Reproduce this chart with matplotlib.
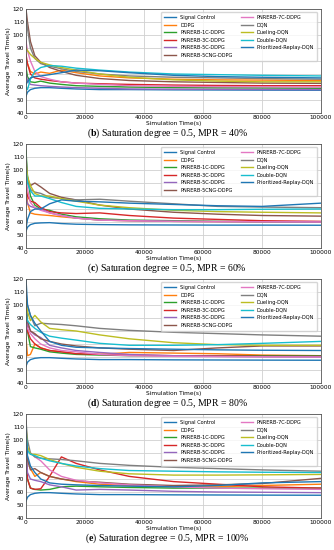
import matplotlib
matplotlib.use('Agg')
import matplotlib.pyplot as plt

# simulation time sample points shared by every curve
T = [0, 500, 1500, 3000, 5000, 8000, 12000, 17000, 25000, 35000, 50000, 65000, 80000, 100000]

names = ['Signal Control', 'DDPG', 'PNRERB-1C-DDPG', 'PNRERB-3C-DDPG',
         'PNRERB-5C-DDPG', 'PNRERB-5CNG-DDPG', 'PNRERB-7C-DDPG', 'DQN',
         'Dueling-DQN', 'Double-DQN', 'Prioritized-Replay-DQN']
colors = ['tab:blue', 'tab:orange', 'tab:green', 'tab:red', 'tab:purple',
          'tab:brown', 'tab:pink', 'tab:gray', 'tab:olive', 'tab:cyan', 'tab:blue']

# (b) MPR = 40%
mpr40 = [
    [53, 56, 58, 59, 59.5, 59.5, 59, 58.5, 58, 58, 57.8, 57.7, 57.6, 57.5],
    [82, 78, 72, 70, 71.5, 70.5, 73, 71, 68.5, 67, 66, 65.5, 65.3, 65],
    [75, 68, 64, 63.5, 64.5, 63, 62, 61, 60.5, 60, 59.5, 59.3, 59.2, 59],
    [85, 78, 70, 67, 66, 65, 64, 63, 62.5, 62, 61.5, 61.2, 61, 61],
    [70, 65, 62, 61.5, 61, 60.5, 60, 59.5, 59, 58.5, 58.3, 58.2, 58.1, 58],
    [120, 110, 95, 84, 79, 75, 72, 69, 66.5, 65, 64, 63.5, 63, 62.8],
    [95, 88, 80, 72, 68, 66, 64, 63, 62, 61, 60.5, 60.3, 60.2, 60],
    [115, 105, 90, 82, 78, 76, 74, 72, 70, 68.5, 67.5, 67, 66.5, 66],
    [90, 88, 85, 82, 79, 77, 75, 73, 70, 67.5, 65.5, 64.5, 64, 64],
    [60, 58, 66, 72, 75, 76.5, 76, 74.5, 73, 71.5, 70, 69.5, 69, 68.5],
    [62, 64, 67, 68, 68.5, 69.5, 71, 73, 72.5, 71, 69, 68, 67.5, 67],
]

# (c) MPR = 60%
mpr60 = [
    [53, 56, 58, 59, 59.3, 59.5, 58.8, 58.3, 58, 57.8, 57.7, 57.6, 57.6, 57.5],
    [90, 75, 67, 66, 65.5, 65, 64, 63, 61.5, 61, 60.5, 60.3, 60.2, 60],
    [115, 95, 80, 73, 70, 69, 66, 64, 62.5, 61.5, 61, 60.5, 60.3, 60],
    [85, 80, 76, 75, 71, 68, 67, 66.5, 67, 65, 63, 62, 61, 60.5],
    [80, 74, 72, 71, 70, 67, 65, 63, 61.5, 61, 60.5, 60.3, 60.2, 60],
    [100, 92, 88, 90, 87, 82, 79, 77, 73, 70, 67.5, 66, 65, 64.5],
    [95, 85, 75, 71, 69, 67, 65, 63, 61.5, 61, 60.5, 60.3, 60.2, 60],
    [110, 95, 85, 83, 82, 79, 78, 77, 77.5, 76, 74, 72, 71.5, 71],
    [105, 95, 88, 82, 80, 80, 78, 76, 73, 71, 69, 68, 67.5, 67],
    [100, 90, 84, 80, 80, 78, 75, 72, 70.5, 70, 69.5, 69.5, 69.8, 70],
    [55, 62, 68, 70, 70, 74, 77, 76, 75.5, 74.5, 73.5, 72.5, 72, 74.5],
]

# (d) MPR = 80%
mpr80 = [
    [53, 56, 58, 59, 59.5, 59.5, 59, 58.5, 58, 58, 57.8, 57.7, 57.6, 57.5],
    [75, 61, 62, 70, 67, 65, 64, 62.5, 62, 63.5, 63, 62.5, 61.5, 61],
    [110, 80, 68, 67, 66, 64, 63, 62, 61.5, 61, 61, 61, 61, 61],
    [95, 80, 74, 70, 67, 65, 64, 62.5, 62, 61.5, 61, 60.8, 60.5, 60.5],
    [90, 85, 80, 77, 75, 69, 67, 65, 63.5, 62, 61, 60.5, 60.2, 60],
    [100, 88, 80, 78, 74, 72, 70, 68.5, 67, 66, 65, 67, 68.5, 68.5],
    [85, 82, 78, 74, 70, 67, 65, 64, 62, 61, 60.5, 60.3, 60.2, 60],
    [110, 100, 92, 84, 86, 85.5, 85, 84, 82, 80.5, 79, 78, 77, 76],
    [105, 95, 88, 92, 87, 82, 81, 80, 77, 74, 71, 69.5, 69, 69],
    [95, 88, 85, 82, 79, 76, 74.5, 73, 70.5, 69, 69, 69.5, 70.5, 72],
    [120, 100, 92, 86, 80, 72, 69, 67.5, 67, 66.5, 66, 65.5, 65.2, 65],
]

# (e) MPR = 100%
mpr100 = [
    [53, 56, 58, 59, 59.5, 59.5, 59, 58.5, 58, 58, 57.8, 57.7, 57.6, 57.5],
    [95, 85, 78, 72, 75, 72, 70, 68, 66, 65, 64, 64, 65, 66],
    [95, 70, 63, 62, 61.5, 62, 64, 64.5, 64, 63.5, 63, 63, 63, 63],
    [90, 70, 63, 62, 62.5, 72, 87, 82, 77, 72, 68, 66, 64, 63],
    [95, 75, 70, 69, 68, 65.5, 64, 61.5, 62, 61.5, 60.5, 60, 59.8, 59.5],
    [100, 85, 77, 78, 75, 72, 70, 68.5, 67.5, 66, 65, 65.5, 66.5, 70.5],
    [100, 92, 90, 87, 84, 77, 72, 69, 67, 65.5, 64, 63, 62.5, 62],
    [115, 100, 90, 87, 86, 85.5, 85, 84, 82, 80.5, 79, 78, 77, 76],
    [110, 95, 89, 89, 88, 85, 82, 79, 76, 74, 73, 73, 73.2, 73.5],
    [105, 92, 89, 88, 86, 84, 82, 80, 78, 76.5, 76, 75.5, 75.2, 75],
    [110, 88, 80, 75, 70, 67, 66, 65.5, 65, 64.5, 64, 65, 67, 68],
]

panels = [mpr40, mpr60, mpr80, mpr100]
letters = ['b', 'c', 'd', 'e']
mprs = ['40%', '60%', '80%', '100%']

plt.rcParams['mathtext.fontset'] = 'custom'
plt.rcParams['mathtext.bf'] = 'Liberation Serif:bold'
plt.rcParams['mathtext.rm'] = 'Liberation Serif'

fig = plt.figure(figsize=(3.34, 5.5), dpi=100)
W, H = 334.0, 550.0

for k, data in enumerate(panels):
    top = 9 + 135 * k
    ax = fig.add_axes([26 / W, 1 - (top + 104) / H, 295 / W, 104 / H])
    for name, c, vals in zip(names, colors, data):
        ax.plot(T, vals, color=c, lw=1.0, label=name)
    ax.set_xlim(0, 100000)
    ax.set_ylim(40, 120)
    ax.set_xticks([0, 20000, 40000, 60000, 80000, 100000])
    ax.set_yticks(range(40, 121, 10))
    ax.grid(True, color='#d0d0d0', lw=0.6)
    ax.set_axisbelow(True)
    ax.tick_params(labelsize=4.2, length=0, pad=1.5)
    for s in ax.spines.values():
        s.set_color('#555555')
        s.set_linewidth(0.6)
    ax.set_xlabel('Simulation Time(s)', fontsize=4.2, labelpad=1)
    ax.set_ylabel('Average Travel Time(s)', fontsize=4.2, labelpad=1.5)
    ax.legend(loc='upper right', ncol=2, fontsize=3.6, frameon=True,
              handlelength=2.4, columnspacing=1.6, labelspacing=0.5,
              borderpad=0.6, edgecolor='#cccccc', fancybox=True,
              bbox_to_anchor=(0.995, 0.995))
    fig.text(0.5, 1 - (top + 104 + 20) / H,
             r'($\mathbf{' + letters[k] + r'}$) Saturation degree = 0.5, MPR = ' + mprs[k],
             ha='center', va='center', fontsize=7, family='Liberation Serif')

fig.savefig('out.png', dpi=100)
